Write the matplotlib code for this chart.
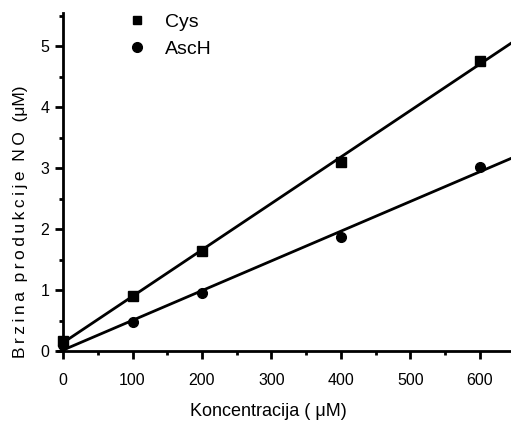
import numpy as np
import matplotlib
matplotlib.use("Agg")
import matplotlib.pyplot as plt
from matplotlib.ticker import MultipleLocator

plt.rcParams['font.family'] = ['Liberation Sans', 'DejaVu Sans']

# concentrations (uM)
conc = [0, 100, 200, 400, 600]
# NO production rate (uM)
cys = [0.17, 0.90, 1.65, 3.10, 4.77]
asch = [0.10, 0.47, 0.95, 1.88, 3.02]

fig = plt.figure(figsize=(5.11, 4.25), dpi=100)
ax = fig.add_axes([57.5/511, 74/425, (511-57.5)/511, (412-74)/425])

xfit = np.array([0, 660])
for y, m in [(cys, 's'), (asch, 'o')]:
	k, b = np.polyfit(conc, y, 1)
	ax.plot(xfit, k*xfit + b, c='k', lw=2, clip_on=False)
	ax.plot(conc, y, m, c='k', ms=7, ls='none', clip_on=False)

# legend
ax.plot([], [], 's', c='k', ms=6, label='Cys')
ax.plot([], [], 'o', c='k', ms=7, label='AscH')
h, l = ax.get_legend_handles_labels()
ax.legend(h[-2:], l[-2:], loc='upper left', bbox_to_anchor=(0.115, 1.05),
	frameon=False, fontsize=14, handletextpad=0.95, labelspacing=0.45,
	handlelength=1.0)

ax.set_xlim(-8, 645)
ax.set_ylim(0, 5.55)
ax.spines['left'].set_position(('data', 0))
ax.spines['right'].set_visible(False)
ax.spines['top'].set_visible(False)
ax.spines['left'].set_linewidth(2)
ax.spines['bottom'].set_linewidth(2)

ax.xaxis.set_major_locator(MultipleLocator(100))
ax.xaxis.set_minor_locator(MultipleLocator(50))
ax.yaxis.set_major_locator(MultipleLocator(1))
ax.yaxis.set_minor_locator(MultipleLocator(0.5))
ax.tick_params(which='major', length=6, width=2, labelsize=11.5)
ax.tick_params(axis='x', which='major', pad=10)
ax.tick_params(axis='y', which='major', pad=4)
ax.tick_params(which='minor', length=3, width=2)

ax.set_xlabel('Koncentracija ( \u03bcM)', fontsize=13)
ax.xaxis.set_label_coords((268-57.5)/453.5, -(403-351)/338.0)
ts = '\u2009'
ylab = ts.join('Brzina') + '  ' + ts.join('produkcije') + '  ' + ts.join('NO') + '  (\u03bcM)'
ax.set_ylabel(ylab, fontsize=12.5)
ax.yaxis.set_label_coords((28-57.5)/453.5, (351-222)/338.0)

plt.savefig('out.png', dpi=100)
